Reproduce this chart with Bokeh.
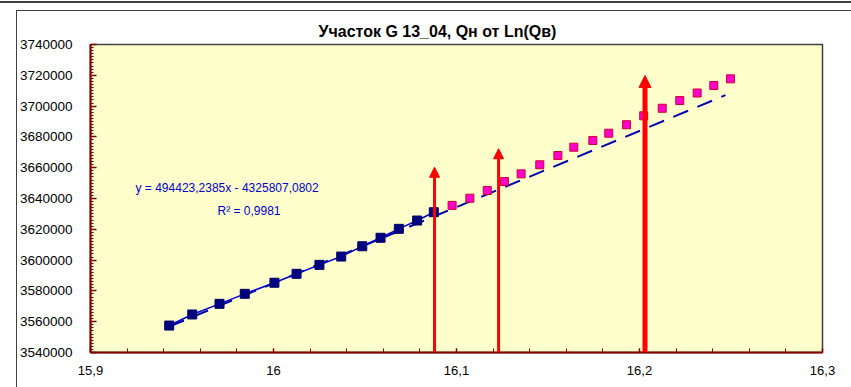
import numpy as np
from bokeh.plotting import figure
from bokeh.models import (FixedTicker, Label, Arrow, NormalHead, InlineStyleSheet,
                          Range1d, CustomJSTickFormatter, ColumnDataSource)
from bokeh.embed import file_html
from bokeh.resources import INLINE

# ---------------- data ----------------
title_text = "Участок G 13_04, Qн от Ln(Qв)"

measured_x = [15.943, 15.9556, 15.9705, 15.9843, 16.0005, 16.0126, 16.0251,
              16.0370, 16.0485, 16.0585, 16.0685, 16.0785, 16.0876]
measured_y = [3557500, 3564700, 3571600, 3578100, 3585300, 3591100, 3596900,
              3602300, 3609000, 3614500, 3620300, 3625700, 3631100]

forecast_x = [16.0976, 16.1073, 16.1168, 16.1262, 16.1353, 16.1455, 16.1554,
              16.1641, 16.1745, 16.1832, 16.1929, 16.2023, 16.2124, 16.2220,
              16.2315, 16.2406, 16.2497]
forecast_y = [3635500, 3640200, 3645200, 3651000, 3656000, 3661900, 3667900,
              3673300, 3677700, 3682400, 3687900, 3693700, 3698600, 3703600,
              3708500, 3713400, 3717700]

trend_slope = 494423.2385
trend_intercept = -4325807.0802
trend_x_range = [15.943, 16.247]
equation_text = "y = 494423,2385x - 4325807,0802"
r2_text = "R\u00b2 = 0,9981"

arrow_x = [16.088, 16.123, 16.203]
arrow_top = [3660300, 3672300, 3719900]
arrow_width = [3, 3, 5]

x_ticks = [15.9, 16.0, 16.1, 16.2, 16.3]
x_tick_labels = ["15,9", "16", "16,1", "16,2", "16,3"]
y_ticks = [3540000, 3560000, 3580000, 3600000, 3620000, 3640000,
           3660000, 3680000, 3700000, 3720000, 3740000]
y_tick_labels = ["3540000", "3560000", "3580000", "3600000", "3620000", "3640000",
                 "3660000", "3680000", "3700000", "3720000", "3740000"]

# ---------------- figure ----------------
W, H = 851, 387
FL, FR, FT, FB = 90, 822, 44, 352

frame_css = InlineStyleSheet(css="""
:host { position: relative; }
:host::after {
  content: ""; position: absolute; left: 16px; top: 10px;
  width: 835px; height: 377px; box-sizing: border-box;
  border-left: 1px solid #404040; border-top: 1px solid #404040;
  pointer-events: none; z-index: 10;
}
:host::before {
  content: ""; position: absolute; left: 0px; top: 1px;
  width: 851px; height: 2px; background: #404040;
  pointer-events: none; z-index: 10;
}
""")

p = figure(width=W, height=H, output_backend="svg", toolbar_location=None,
           x_range=Range1d(x_ticks[0], x_ticks[-1]),
           y_range=Range1d(y_ticks[0], y_ticks[-1]),
           min_border_left=FL, min_border_right=W - FR,
           min_border_top=FT, min_border_bottom=H - FB)
p.stylesheets = [frame_css]
p.background_fill_color = "#FFFFCC"
p.border_fill_color = "white"
p.outline_line_color = "#404040"
p.outline_line_width = 1.5
p.grid.visible = False

FONT = "Liberation Sans"

p.title.text = title_text
p.title.align = "left"
p.title.offset = 228
p.title.text_font = FONT
p.title.text_font_size = "16px"
p.title.text_font_style = "bold"
p.title.text_color = "black"
p.title.standoff = 10

fmt_code = """
let best = 0, d = Infinity;
for (let i = 0; i < tv.length; i++) {
  const e = Math.abs(tv[i] - tick);
  if (e < d) { d = e; best = i; }
}
return tl[best];
"""

xminor = list(np.arange(15.9, 16.3001, 0.02))
p.xaxis.ticker = FixedTicker(ticks=x_ticks, minor_ticks=xminor)
p.xaxis.formatter = CustomJSTickFormatter(args=dict(tv=x_ticks, tl=x_tick_labels), code=fmt_code)
yminor = list(np.arange(3540000, 3740001, 2000))
p.yaxis.ticker = FixedTicker(ticks=y_ticks, minor_ticks=yminor)
p.yaxis.formatter = CustomJSTickFormatter(args=dict(tv=y_ticks, tl=y_tick_labels), code=fmt_code)

for ax in (p.xaxis[0], p.yaxis[0]):
    ax.axis_line_color = "#800000"
    ax.axis_line_width = 2
    ax.major_tick_line_color = "#800000"
    ax.minor_tick_line_color = "#800000"
    ax.major_tick_line_width = 1.5
    ax.minor_tick_line_width = 1
    ax.major_tick_out = 0
    ax.minor_tick_out = 0
    ax.major_label_text_font = FONT
    ax.major_label_text_color = "black"

p.xaxis.major_tick_in = 4
p.xaxis.minor_tick_in = 4
p.xaxis.major_label_text_font_size = "13px"
p.xaxis.major_label_standoff = 13
p.yaxis.major_tick_in = 6
p.yaxis.minor_tick_in = 3
p.yaxis.major_label_text_font_size = "13.5px"
p.yaxis.major_label_standoff = 18

# trend line (dashed)
tx = np.array(trend_x_range)
p.line(tx, trend_slope * tx + trend_intercept, line_color="#0000AA",
       line_width=2, line_dash="16 10")

# measured series
src_m = ColumnDataSource(dict(x=measured_x, y=measured_y))
p.line("x", "y", source=src_m, line_color="#0000CC", line_width=1.5)
p.scatter("x", "y", source=src_m, marker="square", size=9,
          fill_color="#000080", line_color="#000066")

# forecast series
src_f = ColumnDataSource(dict(x=forecast_x, y=forecast_y))
p.scatter("x", "y", source=src_f, marker="square", size=8,
          fill_color="#FF00CC", line_color="#CC0033", line_width=1)

# arrows
for ax_, top_, w_ in zip(arrow_x, arrow_top, arrow_width):
    head = NormalHead(size=10 + (w_ - 3), fill_color="#FF0000", line_color="#FF0000", line_width=1)
    p.add_layout(Arrow(end=head, x_start=ax_, y_start=y_ticks[0], x_end=ax_, y_end=top_,
                       line_color="#FF0000", line_width=w_))

# equation labels
p.add_layout(Label(x=15.9246, y=3646500, text=equation_text, text_font=FONT,
                   text_font_size="12px", text_color="#0000CC", text_baseline="middle"))
p.add_layout(Label(x=15.9694, y=3631600, text=r2_text, text_font=FONT,
                   text_font_size="12px", text_color="#0000CC", text_baseline="middle"))

open("out.html", "w").write(file_html(p, INLINE))
